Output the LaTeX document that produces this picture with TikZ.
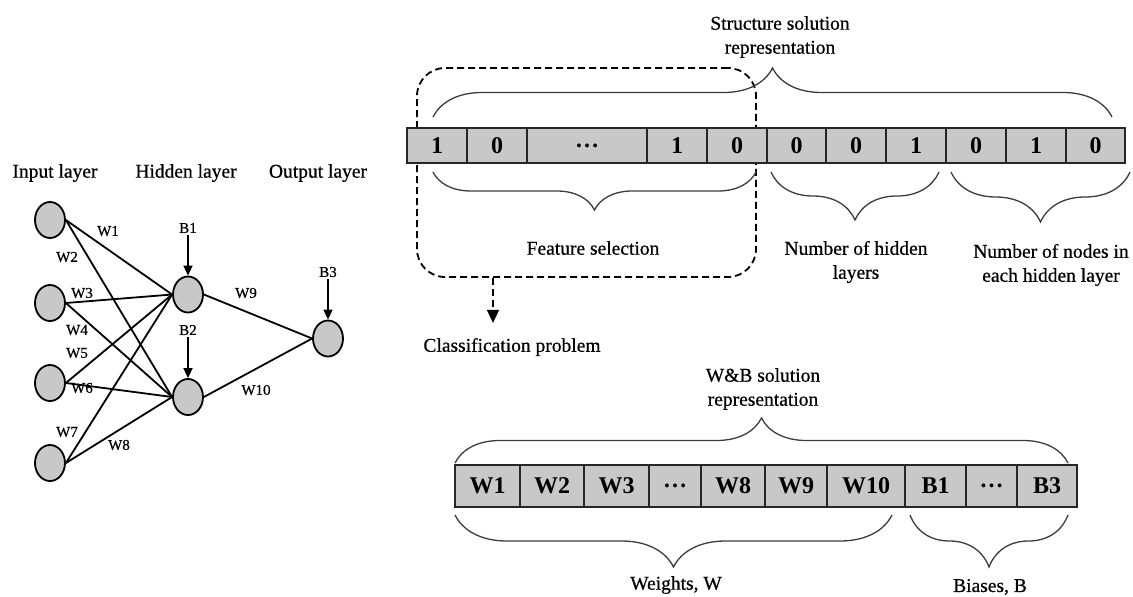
\documentclass[tikz,border=0pt]{standalone}
\usepackage{fontspec}
\setmainfont{Liberation Serif}[UprightFeatures={FakeBold=0.6}]
\usetikzlibrary{arrows.meta,decorations.pathreplacing,shapes.geometric}

\definecolor{cellgray}{RGB}{200,200,200}
\definecolor{bracegray}{RGB}{60,60,60}

\tikzset{
  neuron/.style={ellipse, draw, fill=cellgray, line width=1.8pt, minimum width=30pt, minimum height=36pt, inner sep=0pt},
  wire/.style={line width=1.8pt},
  wlabel/.style={font=\fontsize{15}{17}\selectfont, inner sep=1.5pt},
  biasarrow/.style={line width=1.8pt, -{Triangle[length=10pt,width=9pt]}},
  cell/.style={draw=black!85, fill=cellgray, line width=1.6pt, minimum height=35pt, inner sep=0pt, font=\fontsize{24}{28}\selectfont\bfseries},
  brc/.style={decorate, decoration={brace, amplitude=#1pt}, line width=1.3pt, draw=bracegray},
  lbl/.style={font=\fontsize{19.5}{24}\selectfont, align=center, inner sep=0pt},
  dashbox/.style={draw, line width=1.8pt, dash pattern=on 7pt off 4pt, rounded corners=28pt},
  dasharrow/.style={line width=1.8pt, dash pattern=on 7pt off 4pt, -{Triangle[length=13pt,width=12pt]}}
}

\begin{document}
\begin{tikzpicture}[x=1pt,y=-1pt]
        \useasboundingbox (0,0) rectangle (1133,597);

        % Rede neural
        \node[lbl] (inlbl) at (55,173) {Input layer};
        \node[lbl] (hidlbl) at (186,173) {Hidden layer};
        \node[lbl] (outlbl) at (318,173) {Output layer};

        \foreach \y [count=\i] in {220,303,383,463} {
            \node[neuron] (in\i) at (50,\y) {};
        }
        \node[neuron] (hid1) at (188,294.5) {};
        \node[neuron] (hid2) at (188,397) {};
        \node[neuron] (out) at (328,338.5) {};

        \foreach \i in {1,...,4} {
            \draw[wire] (in\i.east) -- (hid1.west);
            \draw[wire] (in\i.east) -- (hid2.west);
        }
        \draw[wire] (hid1.east) -- (out.west);
        \draw[wire] (hid2.east) -- (out.west);

        % Pesos
        \foreach \t/\x/\y [count=\i] in {W1/108/231, W2/67/257, W3/82/293, W4/77/330, W5/77/353,
                                        W6/82/388, W7/67/432, W8/119/445, W9/246/293, W10/256/390} {
            \node[wlabel] (lw\i) at (\x,\y) {\t};
        }

        % Bias
        \node[wlabel] (b1) at (188,228) {B1};
        \node[wlabel] (b2) at (188,330) {B2};
        \node[wlabel] (b3) at (328,272) {B3};
        \draw[biasarrow] (b1) -- (hid1);
        \draw[biasarrow] (b2) -- (hid2);
        \draw[biasarrow] (b3) -- (out);

        % Selecao de atributos
        \node[dashbox, minimum width=339pt, minimum height=209pt] (fsel) at (586.5,172.5) {};
        \draw[dasharrow] ([xshift=-93.5pt]fsel.south) -- ++(0,45);
        \node[lbl] (cplbl) at (512,347) {Classification problem};

        % Vetor da estrutura
        \foreach \xl/\xr/\t [count=\i] in {407/467/1, 467/527/0, 527/647/{\dots}, 647/707/1, 707/767/0, 767/826/0,
                                          826/886/0, 886/946/1, 946/1006/0, 1006/1066/1, 1066/1125/0} {
            \pgfmathsetmacro\cw{\xr-\xl}
            \node[cell, minimum width=\cw pt] (s\i) at ({(\xl+\xr)/2},145.5) {\t};
        }
        \draw[brc=49] (433,117) -- (1112,117);
        \draw[brc=38] (756,172) -- (433,172);
        \draw[brc=48] (939,172) -- (771,172);
        \draw[brc=50] (1130,172) -- (951,172);

        \node[lbl] (strlbl) at (780,37) {Structure solution\\representation};
        \node[lbl] (fslbl) at (593,248) {Feature selection};
        \node[lbl] (nhlbl) at (856,262) {Number of hidden\\layers};
        \node[lbl] (nnlbl) at (1051,265) {Number of nodes in\\each hidden layer};

        % Vetor de pesos e bias
        \foreach \xl/\xr/\t [count=\i] in {455/520/W1, 520/584/W2, 584/649/W3, 649/701/{\dots}, 701/765/W8,
                                          765/827/W9, 827/905/W10, 905/966/B1, 966/1017/{\dots}, 1017/1077/B3} {
            \pgfmathsetmacro\cw{\xr-\xl}
            \node[cell, minimum width=\cw pt, minimum height=42pt] (wb\i) at ({(\xl+\xr)/2},486) {\t};
        }
        \draw[brc=45] (455,463) -- (1068,463);
        \draw[brc=52] (892,515) -- (455,515);
        \draw[brc=52] (1068,515) -- (910,515);

        \node[lbl] (wblbl) at (763,389) {W\&B solution\\representation};
        \node[lbl] (wlbl) at (676,585) {Weights, W};
        \node[lbl] (blbl) at (990,587) {Biases, B};
\end{tikzpicture}
\end{document}
